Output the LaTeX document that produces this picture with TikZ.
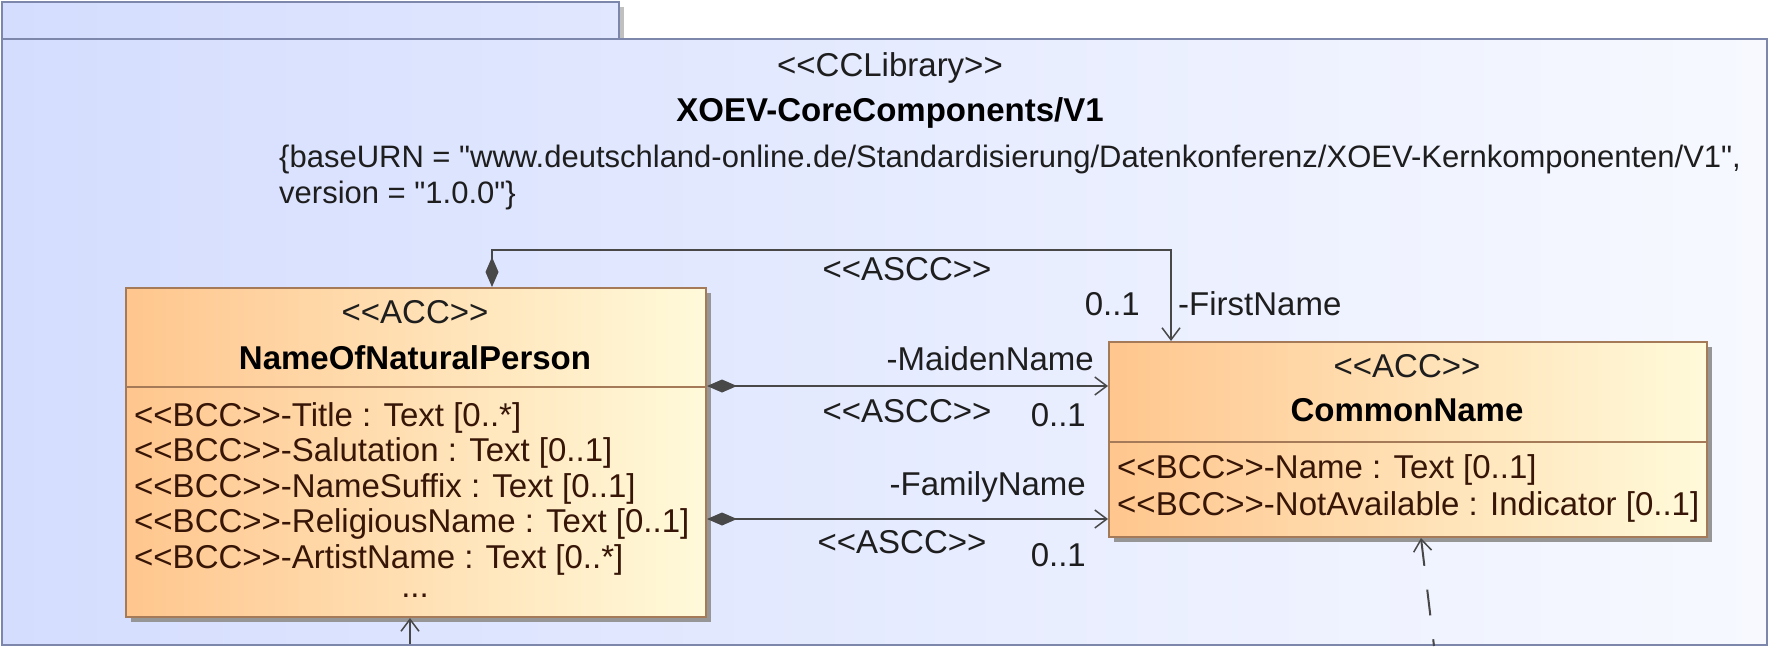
\documentclass[tikz,border=0pt]{standalone}
\usepackage{fontspec}
\setmainfont{Liberation Sans}[Ligatures=TeXOff]
\usetikzlibrary{arrows.meta}

\definecolor{pkgL}{RGB}{212,221,254}
\definecolor{pkgR}{RGB}{247,249,255}
\definecolor{pkgLine}{RGB}{125,135,172}
\definecolor{accL}{RGB}{255,198,142}
\definecolor{accR}{RGB}{255,250,218}
\definecolor{accLine}{RGB}{165,122,88}
\definecolor{shadowgray}{RGB}{150,150,150}
\definecolor{wire}{RGB}{72,72,72}
\definecolor{attrtext}{RGB}{55,22,8}
\definecolor{labeltext}{RGB}{30,30,30}

\tikzset{
  pkgbox/.style={draw=pkgLine, line width=2pt, left color=pkgL, right color=pkgR,
                 inner sep=0pt, anchor=north west},
  accbox/.style={draw=accLine, line width=2pt, left color=accL, right color=accR,
                 inner sep=0pt, anchor=north west},
  boxshadow/.style={fill=shadowgray},
  umltext/.style={font=\fontsize{33}{36}\selectfont, inner sep=0pt, text=labeltext},
  umlbold/.style={font=\bfseries\fontsize{33}{36}\selectfont, inner sep=0pt, text=black},
  tagtext/.style={font=\fontsize{31}{36}\selectfont, inner sep=0pt, text=labeltext, anchor=base west},
  attrline/.style={umltext, text=attrtext, anchor=base west},
  assoc/.style={draw=wire, line width=2pt,
                {Diamond[length=30pt, width=13pt, fill=wire]}-{Straight Barb[length=12pt, width=18pt, line width=1.5pt]}},
  dep/.style={draw=wire, line width=2pt, -{Straight Barb[length=12pt, width=18pt, line width=1.5pt]}},
  depdash/.style={draw=wire, line width=2pt, dash pattern=on 26pt off 24pt,
                  {Straight Barb[length=12pt, width=18pt, line width=1.5pt]}-},
}

\begin{document}
\begin{tikzpicture}[x=1pt, y=-1pt]
\useasboundingbox (0,0) rectangle (1769,646);

% package tab and body
\fill[shadowgray!60] (618,7) rectangle (624,38);
\node[pkgbox, right color=pkgR!35!pkgL, minimum width=617pt, minimum height=37pt] (tab) at (1,1) {};
\node[pkgbox, minimum width=1765pt, minimum height=606pt] (pkg) at (1,38) {};

% package header
\node[umltext, anchor=base] (stereo) at (890,76) {<<CCLibrary>>};
\node[umlbold, anchor=base] (pkgname) at (890,121) {XOEV-CoreComponents/V1};
\node[tagtext] (tag1) at (279,167)
  {\{baseURN = "www.deutschland-online.de/Standardisierung/Datenkonferenz/XOEV-Kernkomponenten/V1",};
\node[tagtext] (tag2) at (279,203) {version = "1.0.0"\}};

% class NameOfNaturalPerson
\fill[boxshadow] (131,293) rectangle (711,622);
\node[accbox, minimum width=580pt, minimum height=329pt] (nonp) at (125,287) {};
\coordinate (nonpDiv) at (0,387);
\draw[draw=accLine, line width=2pt] (nonp.west |- nonpDiv) -- (nonp.east |- nonpDiv);
\node[umltext, anchor=base] (nonpSt) at (415,323) {<<ACC>>};
\node[umlbold, anchor=base] (nonpName) at (415,369) {NameOfNaturalPerson};
\node[attrline] (a1) at (134,426) {<<BCC>>-Title : Text [0..*]};
\node[attrline] (a2) at (134,461.5) {<<BCC>>-Salutation : Text [0..1]};
\node[attrline] (a3) at (134,497) {<<BCC>>-NameSuffix : Text [0..1]};
\node[attrline] (a4) at (134,532.5) {<<BCC>>-ReligiousName : Text [0..1]};
\node[attrline] (a5) at (134,568) {<<BCC>>-ArtistName : Text [0..*]};
\node[umltext, text=attrtext, anchor=base] (a6) at (415,597) {...};

% class CommonName
\fill[boxshadow] (1114,347) rectangle (1712,542);
\node[accbox, minimum width=598pt, minimum height=195pt] (cn) at (1108,341) {};
\coordinate (cnDiv) at (0,442);
\draw[draw=accLine, line width=2pt] (cn.west |- cnDiv) -- (cn.east |- cnDiv);
\node[umltext, anchor=base] (cnSt) at (1407,377) {<<ACC>>};
\node[umlbold, anchor=base] (cnName) at (1407,421) {CommonName};
\node[attrline] (b1) at (1117,478) {<<BCC>>-Name : Text [0..1]};
\node[attrline] (b2) at (1117,515) {<<BCC>>-NotAvailable : Indicator [0..1]};

% association FirstName
\coordinate (fnL) at (492,250);
\coordinate (fnR) at (1171,250);
\draw[assoc] (nonp.north -| fnL) -- (fnL) -- (fnR) -- (cn.north -| fnR);
\node[umltext, anchor=base] (fnSt) at (907,280) {<<ASCC>>};
\node[umltext, anchor=base east] (fnMul) at (1140,315) {0..1};
\node[umltext, anchor=base west] (fnRole) at (1178,315) {-FirstName};

% association MaidenName
\coordinate (mnY) at (0,386);
\draw[assoc] (nonp.east |- mnY) -- (cn.west |- mnY);
\node[umltext, anchor=base east] (mnRole) at (1094,370) {-MaidenName};
\node[umltext, anchor=base] (mnSt) at (907,422) {<<ASCC>>};
\node[umltext, anchor=base east] (mnMul) at (1086,426) {0..1};

% association FamilyName
\coordinate (fmY) at (0,519);
\draw[assoc] (nonp.east |- fmY) -- (cn.west |- fmY);
\node[umltext, anchor=base east] (fmRole) at (1086,495) {-FamilyName};
\node[umltext, anchor=base] (fmSt) at (902,553) {<<ASCC>>};
\node[umltext, anchor=base east] (fmMul) at (1086,566) {0..1};

% incoming connectors from below
\coordinate (inNonp) at (410,644);
\draw[dep] (inNonp) -- (nonp.south -| inNonp);
\coordinate (inCnTop) at (1421,536);
\coordinate (inCnBot) at (1434,646);
\draw[depdash] (cn.south -| inCnTop) -- (inCnBot);
\end{tikzpicture}
\end{document}
